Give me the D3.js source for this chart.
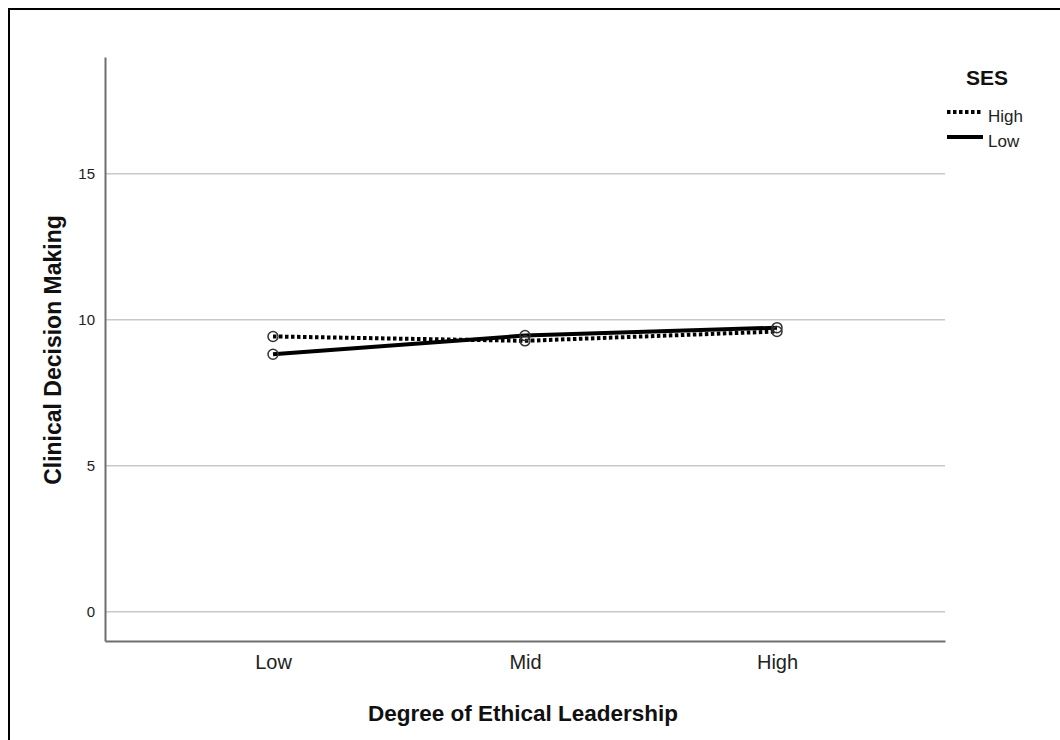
<!DOCTYPE html>
<html><head><meta charset="utf-8">
<script src="https://cdn.jsdelivr.net/npm/d3@7/dist/d3.min.js"></script>
<style>html,body{margin:0;padding:0;background:#fff;}svg{display:block;}</style>
</head><body>
<svg id="c" width="1060" height="740"></svg>
<script>
const categories = ["Low", "Mid", "High"];
const seriesNames = ["High", "Low"];
const highSES = [9.43, 9.28, 9.6];
const lowSES = [8.82, 9.46, 9.73];
const yTicks = [0, 5, 10, 15];

(function () {
const svg = d3.select("#c");
const font = "'Liberation Sans', Arial, sans-serif";
// outer frame
svg.append("rect").attr("x", 9).attr("y", 9).attr("width", 1060).attr("height", 740)
  .attr("fill", "none").attr("stroke", "#000").attr("stroke-width", 2);

const pLeft = 105, pRight = 945, pTop = 57, pBottom = 641;
const x = d3.scalePoint().domain(categories).range([pLeft, pRight]).padding(2/3);
const y = d3.scaleLinear().domain([-1, 19]).range([pBottom, pTop]);

// gridlines
svg.append("g").selectAll("line").data(yTicks).join("line")
  .attr("x1", pLeft).attr("x2", pRight).attr("y1", d => y(d)).attr("y2", d => y(d))
  .attr("stroke", "#c8c8c8").attr("stroke-width", 1.5);

// y axis
const ya = svg.append("g").attr("transform", `translate(${pLeft},0)`)
  .call(d3.axisLeft(y).tickValues(yTicks).tickSize(0).tickPadding(10));
ya.select(".domain").attr("stroke", "#6e6e6e").attr("stroke-width", 2);
ya.selectAll("text").attr("font-family", font).attr("font-size", 15).attr("fill", "#222");

// x axis
const xa = svg.append("g").attr("transform", `translate(0,${pBottom})`)
  .call(d3.axisBottom(x).tickSize(0).tickPadding(14));
xa.select(".domain").attr("stroke", "#6e6e6e").attr("stroke-width", 2);
xa.selectAll("text").attr("font-family", font).attr("font-size", 20).attr("fill", "#222");

// axis titles
svg.append("text").attr("x", 523).attr("y", 721).attr("text-anchor", "middle")
  .attr("font-family", font).attr("font-weight", "bold").attr("font-size", 22.5).attr("fill", "#111")
  .text("Degree of Ethical Leadership");
svg.append("text").attr("transform", `translate(61,350) rotate(-90)`)
  .attr("text-anchor", "middle")
  .attr("font-family", font).attr("font-weight", "bold").attr("font-size", 23).attr("fill", "#111")
  .text("Clinical Decision Making");

const line = d3.line().x((d, i) => x(categories[i])).y(d => y(d));
const series = [
  { name: seriesNames[0], values: highSES, dash: "3.5,2.5" },
  { name: seriesNames[1], values: lowSES, dash: null }
];
series.forEach(s => {
  svg.append("path").datum(s.values).attr("d", line).attr("fill", "none")
    .attr("stroke", "#000").attr("stroke-width", 4)
    .attr("stroke-dasharray", s.dash);
});
series.forEach(s => {
  svg.append("g").selectAll("circle").data(s.values).join("circle")
    .attr("cx", (d, i) => x(categories[i])).attr("cy", d => y(d)).attr("r", 5)
    .attr("fill", "none").attr("stroke", "#333").attr("stroke-width", 1.5);
});

// legend
svg.append("text").attr("x", 987).attr("y", 85).attr("text-anchor", "middle")
  .attr("font-family", font).attr("font-weight", "bold").attr("font-size", 21).attr("fill", "#111")
  .text("SES");
series.forEach((s, i) => {
  const ly = 112 + i * 25;
  svg.append("line").attr("x1", 947).attr("x2", 983).attr("y1", ly).attr("y2", ly)
    .attr("stroke", "#000").attr("stroke-width", 4).attr("stroke-dasharray", s.dash);
  svg.append("text").attr("x", 988).attr("y", ly + 10).attr("font-family", font)
    .attr("font-size", 17).attr("fill", "#222").text(s.name);
});
})();
</script>
</body></html>
